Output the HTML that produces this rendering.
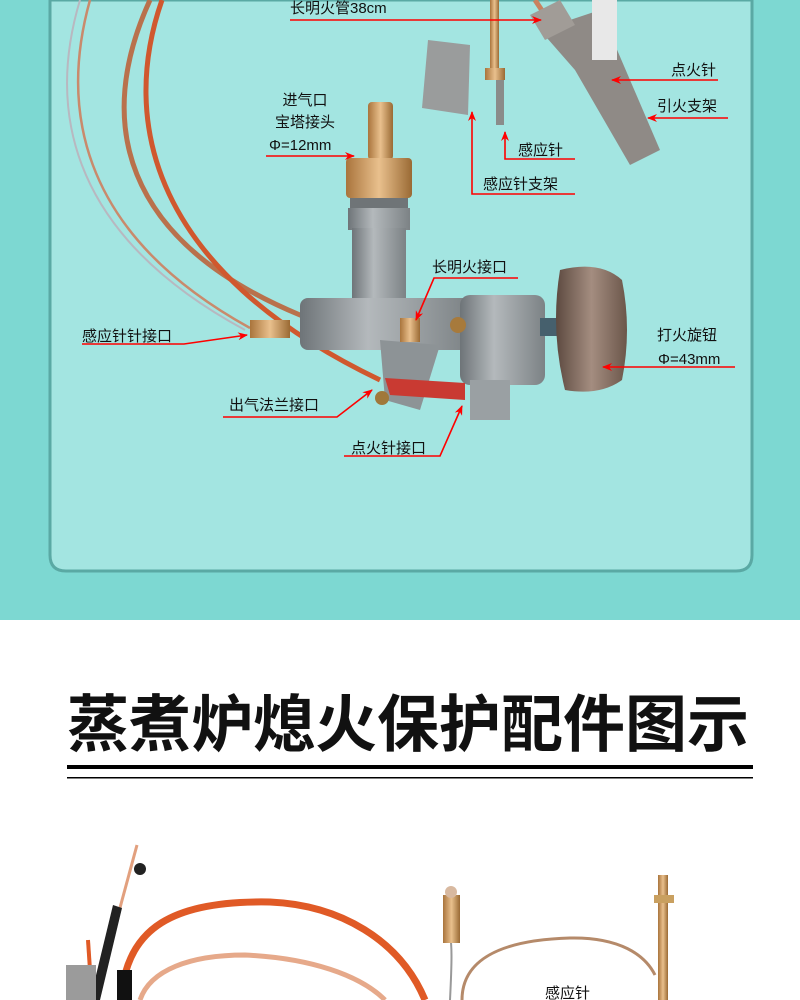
<!DOCTYPE html>
<html><head><meta charset="utf-8"><style>
html,body{margin:0;padding:0;background:#fff}
svg{display:block}
text{font-family:"Liberation Sans","Noto Sans CJK SC",sans-serif;fill:#111}
</style></head><body>
<svg width="800" height="1000" viewBox="0 0 800 1000" xmlns="http://www.w3.org/2000/svg">
<defs>
<marker id="ar" markerWidth="10" markerHeight="8" refX="9" refY="4" orient="auto" markerUnits="userSpaceOnUse"><path d="M0,0 L10,4 L0,8 L3,4z" fill="#f00"/></marker>
<linearGradient id="metal" x1="0" x2="1"><stop offset="0" stop-color="#6e7478"/><stop offset=".4" stop-color="#b4b9bc"/><stop offset="1" stop-color="#7c8285"/></linearGradient>
<linearGradient id="brass" x1="0" x2="1"><stop offset="0" stop-color="#a9743c"/><stop offset=".5" stop-color="#e9c08d"/><stop offset="1" stop-color="#9a6a34"/></linearGradient>
<linearGradient id="knob" x1="0" x2="1"><stop offset="0" stop-color="#5d4a40"/><stop offset=".5" stop-color="#a48d80"/><stop offset="1" stop-color="#6b564a"/></linearGradient>
</defs>
<rect x="0" y="0" width="800" height="620" fill="#7dd8d2"/>
<path d="M50,0 V555 Q50,571 66,571 H736 Q752,571 752,555 V0 Z" fill="#a3e5e1" stroke="#5aa9a4" stroke-width="3"/>

<!-- tubes -->
<path d="M80,0 C50,100 60,230 245,330" fill="none" stroke="#b8b8c0" stroke-width="2"/>
<path d="M90,0 C62,100 72,230 250,328" fill="none" stroke="#c98a6c" stroke-width="2.5"/>
<path d="M150,0 C95,120 120,240 300,315 C350,330 390,330 415,330" fill="none" stroke="#b9714c" stroke-width="5"/>
<path d="M162,0 C120,120 150,270 380,380" fill="none" stroke="#d0582e" stroke-width="5"/>
<path d="M535,0 L555,30" stroke="#c9825f" stroke-width="5"/>

<!-- inlet -->
<rect x="368" y="102" width="25" height="58" rx="4" fill="url(#brass)"/>
<rect x="346" y="158" width="66" height="40" rx="4" fill="url(#brass)"/>
<rect x="350" y="198" width="58" height="12" fill="#6f7477"/>
<rect x="348" y="208" width="62" height="22" fill="url(#metal)"/>
<rect x="352" y="228" width="54" height="90" fill="url(#metal)"/>
<!-- body -->
<rect x="300" y="298" width="170" height="52" rx="8" fill="url(#metal)"/>
<path d="M380,340 L440,345 L420,410 L385,400Z" fill="#8d9396"/>
<rect x="460" y="295" width="85" height="90" rx="10" fill="url(#metal)"/>
<rect x="470" y="380" width="40" height="40" fill="#9aa0a3"/>
<rect x="540" y="318" width="25" height="18" fill="#46606d"/>
<path d="M560,270 Q600,260 622,280 Q632,330 622,380 Q600,396 565,390 Q550,330 560,270Z" fill="url(#knob)"/>
<circle cx="458" cy="325" r="8" fill="#a77a3c"/>
<rect x="400" y="318" width="20" height="24" fill="url(#brass)"/>
<rect x="250" y="320" width="40" height="18" fill="url(#brass)"/>
<path d="M385,378 L465,383 L465,400 L390,395Z" fill="#c93a32"/>
<circle cx="382" cy="398" r="7" fill="#a0783a"/>

<!-- pilot parts -->
<path d="M428,40 L470,45 L468,115 L422,108Z" fill="#9a9c9c"/>
<rect x="490" y="0" width="9" height="70" fill="url(#brass)"/>
<rect x="485" y="68" width="20" height="12" fill="url(#brass)"/>
<rect x="496" y="80" width="8" height="45" fill="#8a8c8a"/>
<path d="M540,30 L600,10 L660,150 L630,165 L575,70Z" fill="#8f8a86"/>
<path d="M530,15 L560,0 L575,25 L545,40Z" fill="#a19c97"/>
<rect x="592" y="0" width="25" height="60" fill="#e8e8e8"/>

<!-- labels -->
<g font-size="15">
<text x="290" y="13">长明火管38cm</text>
<text x="671" y="75">点火针</text>
<text x="657" y="111">引火支架</text>
<text x="518" y="155">感应针</text>
<text x="483" y="189">感应针支架</text>
<text x="305" y="105" text-anchor="middle">进气口</text>
<text x="305" y="127" text-anchor="middle">宝塔接头</text>
<text x="269" y="150">Φ=12mm</text>
<text x="432" y="272">长明火接口</text>
<text x="82" y="341">感应针针接口</text>
<text x="657" y="340">打火旋钮</text>
<text x="658" y="364">Φ=43mm</text>
<text x="229" y="410">出气法兰接口</text>
<text x="351" y="453">点火针接口</text>
</g>
<g stroke="#f00" stroke-width="1.6" fill="none">
<path d="M290,20 H541" marker-end="url(#ar)"/>
<path d="M718,80 H612" marker-end="url(#ar)"/>
<path d="M728,118 H648" marker-end="url(#ar)"/>
<path d="M575,159 H505 V132" marker-end="url(#ar)"/>
<path d="M575,194 H472 V112" marker-end="url(#ar)"/>
<path d="M266,156 H354" marker-end="url(#ar)"/>
<path d="M518,278 H434 L416,320" marker-end="url(#ar)"/>
<path d="M82,344 H184 L247,335" marker-end="url(#ar)"/>
<path d="M735,367 H603" marker-end="url(#ar)"/>
<path d="M223,417 H337 L372,390" marker-end="url(#ar)"/>
<path d="M344,456 H440 L462,406" marker-end="url(#ar)"/>
</g>

<!-- title -->
<text x="408" y="746" text-anchor="middle" font-size="62" font-weight="bold" style="font-family:'Noto Sans CJK SC',sans-serif">蒸煮炉熄火保护配件图示</text>
<rect x="67" y="765" width="686" height="4" fill="#000"/>
<rect x="67" y="777" width="686" height="1.5" fill="#000"/>

<!-- bottom photo -->
<path d="M122,990 C130,930 170,900 270,902 C340,905 400,940 425,1000" fill="none" stroke="#e05a26" stroke-width="7"/>
<path d="M140,1000 C150,970 190,955 245,955 C310,958 360,975 385,1000" fill="none" stroke="#e6a98a" stroke-width="5"/>
<path d="M137,845 L95,1000" stroke="#e2a07e" stroke-width="3"/>
<circle cx="140" cy="869" r="6" fill="#222"/>
<path d="M113,905 L122,908 L100,1000 L90,1000Z" fill="#222"/>
<path d="M92,1000 L88,940" stroke="#e05a26" stroke-width="4"/>
<rect x="117" y="970" width="15" height="30" fill="#111"/>
<rect x="66" y="965" width="30" height="35" fill="#9b9b9b"/>
<path d="M450,1000 C452,960 452,945 450,935" stroke="#999" stroke-width="2" fill="none"/>
<path d="M462,1000 C462,960 500,940 570,938 C620,937 645,955 655,975" stroke="#b58a6a" stroke-width="3" fill="none"/>
<rect x="443" y="895" width="17" height="48" fill="url(#brass)"/>
<circle cx="451" cy="892" r="6" fill="#d8b9a0"/>
<rect x="658" y="875" width="10" height="125" fill="url(#brass)"/>
<rect x="654" y="895" width="20" height="8" fill="#c9a060"/>
<text x="545" y="998" font-size="15">感应针</text>
</svg>
</body></html>
